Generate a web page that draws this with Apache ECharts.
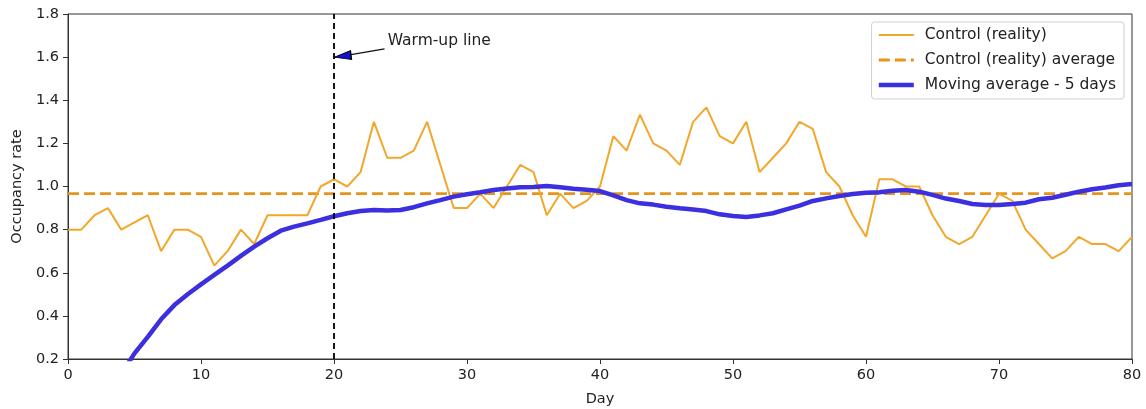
<!DOCTYPE html>
<html>
<head>
<meta charset="utf-8">
<script src="https://cdn.jsdelivr.net/npm/echarts@6/dist/echarts.min.js"></script>
<style>
  html, body { margin: 0; padding: 0; background: #fff; }
  #chart { width: 1146px; height: 409px; }
</style>
</head>
<body>
<div id="chart"></div>
<script>
// day index 0..80
const days = Array.from({ length: 81 }, (_, i) => i)

// daily occupancy, control (reality)
const control = [
  0.8, 0.8, 0.8667, 0.9, 0.8, 0.8333, 0.8667, 0.7, 0.8, 0.8,
  0.7667, 0.6333, 0.7, 0.8, 0.7333, 0.8667, 0.8667, 0.8667, 0.8667, 1.0,
  1.0333, 1.0, 1.0667, 1.3, 1.1333, 1.1333, 1.1667, 1.3, 1.1, 0.9,
  0.9, 0.9667, 0.9, 1.0, 1.1, 1.0667, 0.8667, 0.9667, 0.9, 0.9333,
  1.0, 1.2333, 1.1667, 1.3333, 1.2, 1.1667, 1.1, 1.3, 1.3667, 1.2333,
  1.2, 1.3, 1.0667, 1.1333, 1.2, 1.3, 1.2667, 1.0667, 1.0, 0.8667,
  0.7667, 1.0333, 1.0333, 1.0, 1.0, 0.8667, 0.7667, 0.7333, 0.7667, 0.8667,
  0.9667, 0.9333, 0.8, 0.7333, 0.6667, 0.7, 0.7667, 0.7333, 0.7333, 0.7,
  0.7667
]

// horizontal average of control
const controlAvg = 0.967

// moving average - 5 days (first days fall below the axis)
const movingAvg = [
  null, null, null, null, 0.13, 0.226, 0.303, 0.384, 0.45, 0.50,
  0.546, 0.59, 0.633, 0.678, 0.721, 0.76, 0.795, 0.814, 0.829, 0.845,
  0.862, 0.876, 0.886, 0.891, 0.889, 0.891, 0.904, 0.922, 0.937, 0.953,
  0.964, 0.973, 0.984, 0.991, 0.996, 0.998, 1.002, 0.996, 0.99, 0.985,
  0.979, 0.959, 0.937, 0.922, 0.916, 0.906, 0.899, 0.893, 0.886, 0.871,
  0.863, 0.859, 0.866, 0.876, 0.894, 0.911, 0.933, 0.945, 0.956, 0.965,
  0.971, 0.973, 0.98, 0.984, 0.976, 0.961, 0.944, 0.933, 0.919, 0.914,
  0.914, 0.919, 0.925, 0.941, 0.948, 0.962, 0.976, 0.987, 0.995, 1.006,
  1.012
]

const warmupDay = 20
const xTicks = [0, 10, 20, 30, 40, 50, 60, 70, 80]
const yTicks = [0.2, 0.4, 0.6, 0.8, 1.0, 1.2, 1.4, 1.6, 1.8]

const colors = ['#F2A72A', '#E5941C', '#3B2FE0']
const font = 'DejaVu Sans'
const tickSize = 14.5
const textSize = 15.5

const chart = echarts.init(document.getElementById('chart'))

function setOptions() {
  return {
    animation: false,
    color: colors,
    textStyle: { fontFamily: font },
    grid: {
      left: 68, right: 14, top: 14, bottom: 50,
      outerBoundsMode: 'none',
      containLabel: false,
      show: true, borderColor: '#333', borderWidth: 1
    },
    legend: {
      orient: 'vertical',
      right: 22,
      top: 22,
      padding: [5, 8, 6, 5],
      itemWidth: 35,
      itemHeight: 14,
      itemGap: 9,
      itemStyle: { opacity: 0 },
      backgroundColor: 'rgba(255,255,255,0.85)',
      borderColor: '#d0d0d0',
      borderWidth: 1,
      borderRadius: 3,
      textStyle: { fontFamily: font, fontSize: textSize, color: '#222', padding: [0, 0, 0, 6] },
      data: [
        { name: 'Control (reality)', lineStyle: { width: 2 } },
        { name: 'Control (reality) average', lineStyle: { width: 3, type: [11, 5] } },
        { name: 'Moving average - 5 days', lineStyle: { width: 4.5 } }
      ]
    },
    xAxis: {
      type: 'value',
      min: xTicks[0],
      max: xTicks[xTicks.length - 1],
      interval: 10,
      name: 'Day',
      nameLocation: 'middle',
      nameGap: 33,
      nameTextStyle: { fontFamily: font, fontSize: tickSize, color: '#222' },
      axisLine: { show: true, onZero: false, lineStyle: { color: '#333', width: 1 } },
      axisTick: { show: true, length: 5, lineStyle: { color: '#333' } },
      axisLabel: { fontFamily: font, fontSize: tickSize, color: '#222', margin: 9 },
      splitLine: { show: false }
    },
    yAxis: {
      type: 'value',
      min: yTicks[0],
      max: yTicks[yTicks.length - 1],
      interval: 0.2,
      name: 'Occupancy rate',
      nameLocation: 'middle',
      nameGap: 42,
      nameTextStyle: { fontFamily: font, fontSize: tickSize, color: '#222' },
      axisLine: { show: true, lineStyle: { color: '#333', width: 1 } },
      axisTick: { show: true, length: 5, lineStyle: { color: '#333' } },
      axisLabel: {
        fontFamily: font, fontSize: tickSize, color: '#222', margin: 9,
        formatter: v => v.toFixed(1)
      },
      splitLine: { show: false }
    },
    series: [
      {
        name: 'Control (reality)',
        type: 'line',
        symbol: 'none',
        data: days.map((d, i) => [d, control[i]]),
        lineStyle: { color: colors[0], width: 2 },
        z: 3,
        markLine: {
          silent: true,
          symbol: ['none', 'none'],
          label: { show: false },
          data: [
            {
              xAxis: warmupDay,
              lineStyle: { color: '#000', width: 1.8, type: [6, 4] }
            },
            [
              { coord: [23.8, 1.638], lineStyle: { color: '#111', width: 1.3, type: 'solid' } },
              { coord: [20.4, 1.602] }
            ]
          ]
        },
        markPoint: {
          silent: true,
          data: [
            {
              coord: [warmupDay, 1.6],
              symbol: 'triangle',
              symbolSize: [9, 17],
              symbolRotate: 97,
              symbolOffset: [8.5, -1],
              itemStyle: { color: '#1212c8', borderColor: '#000', borderWidth: 1 },
              label: { show: false }
            },
            {
              coord: [24.0, 1.675],
              symbol: 'circle',
              symbolSize: 1,
              itemStyle: { color: 'rgba(0,0,0,0)' },
              label: {
                show: true, position: 'right', distance: 0,
                formatter: 'Warm-up line',
                fontFamily: font, fontSize: textSize, color: '#222'
              }
            }
          ]
        }
      },
      {
        name: 'Control (reality) average',
        type: 'line',
        symbol: 'none',
        data: [[xTicks[0], controlAvg], [xTicks[xTicks.length - 1], controlAvg]],
        lineStyle: { color: colors[1], width: 2.7, type: [11, 5] },
        z: 2
      },
      {
        name: 'Moving average - 5 days',
        type: 'line',
        symbol: 'none',
        clip: true,
        data: days.map((d, i) => [d, movingAvg[i]]),
        lineStyle: { color: colors[2], width: 4.5 },
        z: 4
      }
    ]
  }
}

chart.setOption(setOptions())
</script>
</body>
</html>
